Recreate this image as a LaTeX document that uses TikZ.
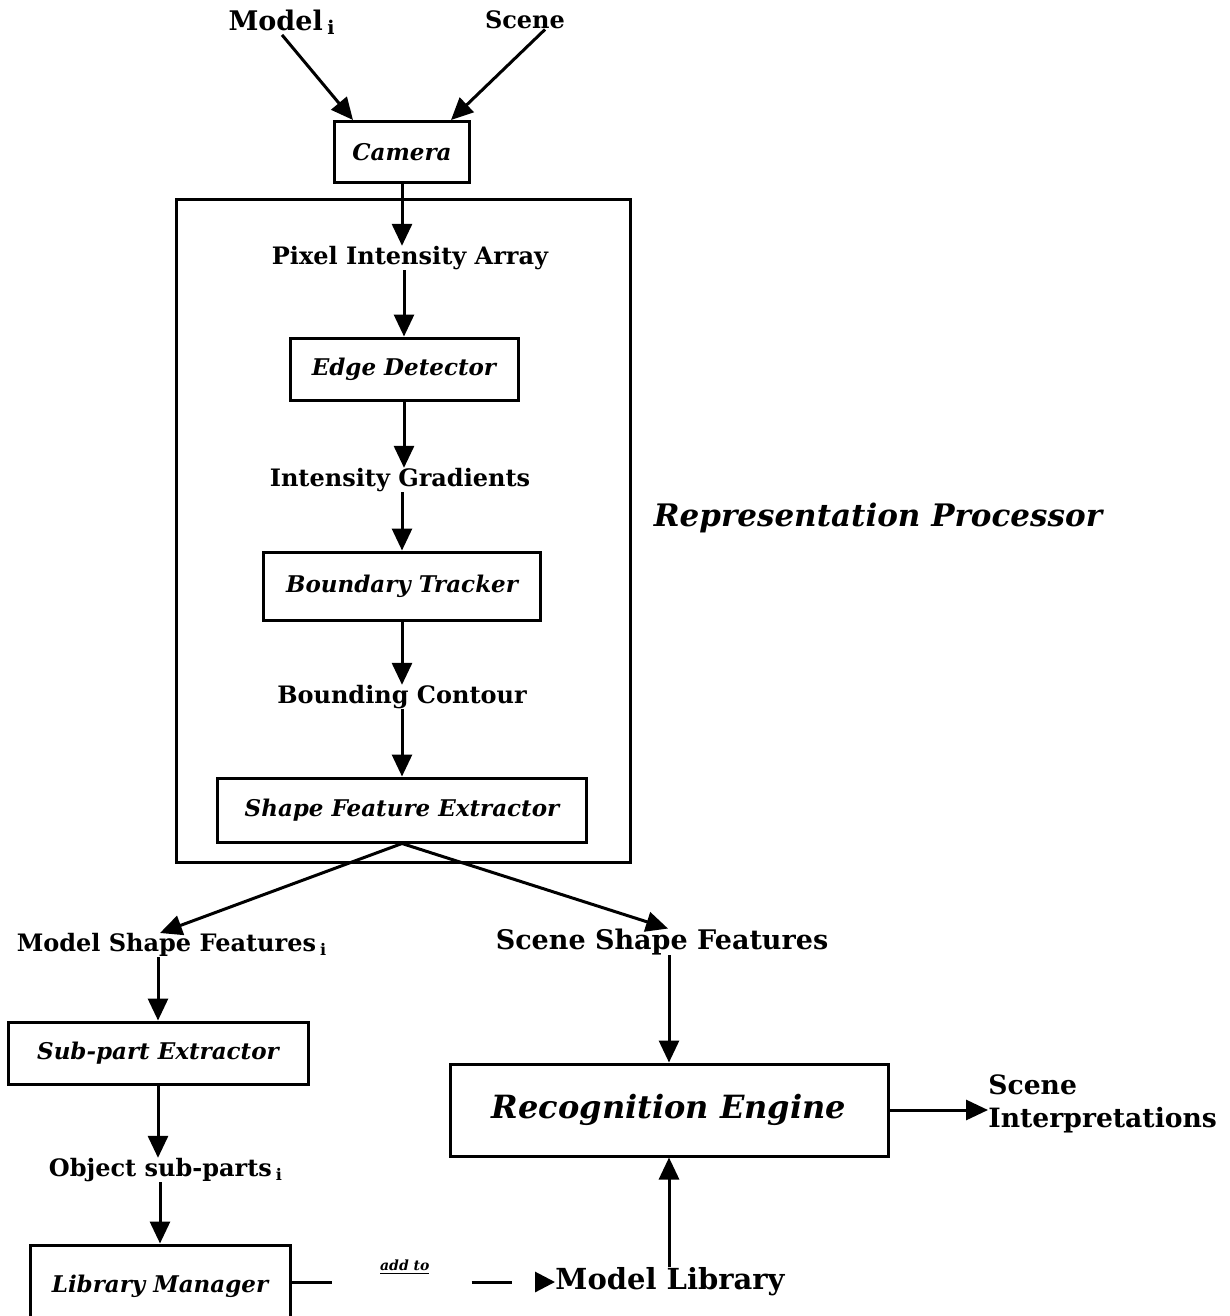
\documentclass[tikz,border=0pt]{standalone}
\usepackage{fontspec}
\setmainfont{DejaVu Serif}
\usepackage{tikz}
\usetikzlibrary{positioning}
\usetikzlibrary{arrows.meta}
\tikzset{%
  flow/.style = {-{Triangle[length=11pt,width=10pt]},line width=1.5pt},
  addto/.style = {-{Triangle[length=10pt,width=10pt]},line width=1.5pt,
        dash pattern=on 20pt off 70pt},
  b/.style = {rectangle,draw,line width=1.5pt,
        font=\fontsize{11.5}{13}\selectfont\bfseries\itshape},
  t/.style = {inner sep=0pt,font=\fontsize{12}{14}\selectfont\bfseries}
}
\begin{document}
\begin{tikzpicture}[x=0.5pt,y=-0.5pt]
                    \useasboundingbox (0,0) rectangle (1230,1316);
                    % inputs and camera
                    \node[t,font=\fontsize{13.5}{15}\selectfont\bfseries] (model) at (282,22) {Model\,$_{\mathbf{i}}$};
                    \node[t] (scene) at (525,20) {Scene};
                    \node[b,minimum width=67.5pt,minimum height=30.5pt] (camera) at (402,152) {Camera};

                    % representation processor
                    \draw[line width=1.5pt] (176,200) rectangle (630,862);
                    \node[font=\fontsize{15.5}{18}\selectfont\bfseries\itshape] (rp) at (878,518) {Representation Processor};
                    \node[t] (pia) at (410,258) {Pixel Intensity Array};
                    \node[b,minimum width=114pt,minimum height=31pt] (edge) at (404,369) {Edge Detector};
                    \node[t] (ig) at (400,480) {Intensity Gradients};
                    \node[b,minimum width=138.5pt,minimum height=34pt] (bt) at (402,586) {Boundary Tracker};
                    \node[t] (bc) at (402,697) {Bounding Contour};
                    \node[b,minimum width=184.5pt,minimum height=32pt] (sfe) at (402,810) {Shape Feature Extractor};

                    % model side
                    \node[t] (msf) at (172,945) {Model Shape Features\,$_{\mathbf{i}}$};
                    \node[b,minimum width=150pt,minimum height=31pt] (spe) at (158,1053) {Sub-part Extractor};
                    \node[t] (osp) at (166,1170) {Object sub-parts\,$_{\mathbf{i}}$};
                    \node[b,minimum width=130pt,minimum height=41pt] (lm) at (160,1286) {Library Manager};
                    \node[t,font=\fontsize{14.5}{16}\selectfont\bfseries] (ml) at (670,1282) {Model Library};

                    % scene side
                    \node[t,font=\fontsize{13.5}{15}\selectfont\bfseries] (ssf) at (662,942) {Scene Shape Features};
                    \node[b,minimum width=219pt,minimum height=46pt,
                          font=\fontsize{16}{18}\selectfont\bfseries\itshape] (re) at (669,1110) {Recognition Engine};
                    \node[t,align=left,anchor=west,font=\fontsize{13.3}{16.5}\selectfont\bfseries] (si) at (988,1104) {Scene\\Interpretations};

                    \draw[flow] (model.south) -- ([xshift=10pt]camera.north west);
                    \draw[flow] ([xshift=10pt]scene.south) -- ([xshift=-10pt]camera.north east);
                    \draw[flow] (camera.south) -- (pia.north -| camera.south);
                    \draw[flow] (pia.south -| edge.north) -- (edge.north);
                    \draw[flow] (edge.south) -- (ig.north -| edge.south);
                    \draw[flow] (ig.south -| bt.north) -- (bt.north);
                    \draw[flow] (bt.south) -- (bc.north -| bt.south);
                    \draw[flow] (bc.south -| sfe.north) -- (sfe.north);

                    \draw[flow] (sfe.south) -- ([xshift=-6pt]msf.north);
                    \draw[flow] (sfe.south) -- ([xshift=3pt]ssf.north);
                    \draw[flow] (msf.south -| spe.north) -- (spe.north);
                    \draw[flow] (spe.south) -- (osp.north -| spe.south);
                    \draw[flow] (osp.south -| lm.north) -- (lm.north);
                    \draw[flow] (ssf.south -| re.north) -- (re.north);
                    \draw[flow] (re.east) -- (si.west |- re.east);
                    \draw[flow] (ml.north -| re.south) -- (re.south);

                    \draw[addto] (lm.east |- ml.west) -- (ml.west)
                        node[pos=0.43,above=3pt,inner sep=0pt,font=\fontsize{7}{8}\selectfont\bfseries\itshape] {\underline{add to}};
                 \end{tikzpicture}
\end{document}
